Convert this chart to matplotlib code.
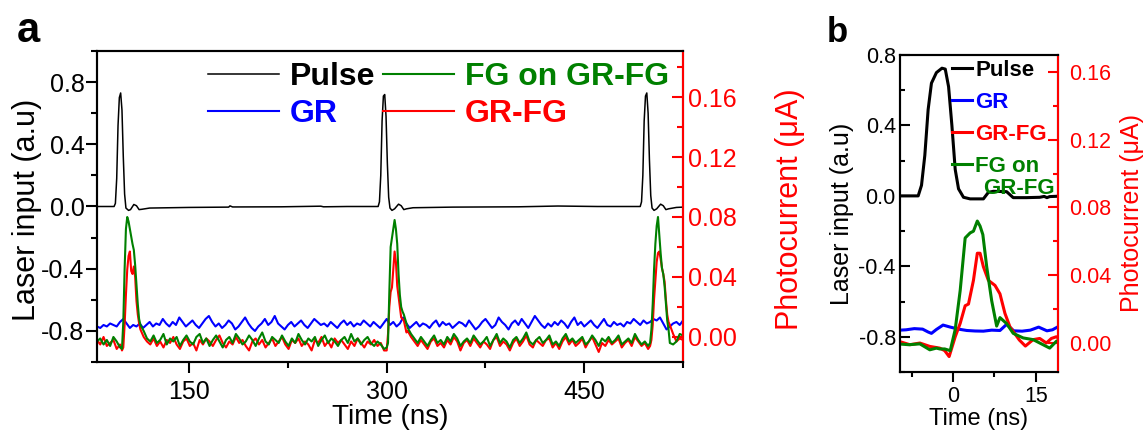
import numpy as np
import matplotlib
matplotlib.use('Agg')
import matplotlib.pyplot as plt
from matplotlib.ticker import MultipleLocator, FormatStrFormatter

plt.rcParams['font.family'] = ['Liberation Sans', 'DejaVu Sans']
plt.rcParams['axes.unicode_minus'] = False

# ---------------- panel a data ----------------
# laser pulse (time ns, a.u.)
pulse_a = [(80, 0.0), (93, 0.0), (94, 0.02), (95, 0.18), (96, 0.52), (97, 0.70), (98, 0.73),
           (99, 0.62), (100, 0.32), (101, 0.08), (102, -0.01), (104, -0.025), (105.5, -0.02),
           (108, 0.013), (110, 0.005), (112, -0.02), (114, -0.018), (120, -0.01), (150, -0.006),
           (180, -0.004), (181, 0.004), (183, -0.003), (220, -0.002), (250, 0.002), (252, -0.002),
           (270, 0.0), (293.5, 0.0),
           (294.5, 0.03), (295.5, 0.2), (296.5, 0.55), (297.5, 0.71), (298.5, 0.72), (299.5, 0.58),
           (300.5, 0.28), (301.5, 0.06), (302.5, -0.01), (304, -0.025), (306, -0.015), (309, 0.015),
           (311, 0.005), (313, -0.02), (315, -0.015), (320, -0.008), (350, -0.004), (400, -0.002),
           (430, 0.003), (460, 0.0), (492.5, 0.0),
           (493.5, 0.03), (494.5, 0.2), (495.5, 0.55), (496.5, 0.71), (497.5, 0.73), (498.5, 0.6),
           (499.5, 0.3), (500.5, 0.07), (501.5, -0.01), (503, -0.025), (505, -0.015), (508, 0.015),
           (510, 0.005), (512, -0.02), (514, -0.015), (520, -0.006), (525, -0.004)]

# GR photocurrent (nA), sampled every 2.5 ns from 80 ns
gr_a = [7, 6, 8, 7, 9, 8, 7, 10, 12, 9,
        6, 8, 7, 9, 6, 8, 10, 7, 9, 8,
        12, 9, 7, 10, 8, 13, 10, 7, 9, 11,
        8, 6, 9, 12, 14, 10, 7, 9, 6, 8,
        11, 9, 5, 7, 10, 13, 9, 6, 4, 7,
        9, 12, 8, 10, 14, 9, 7, 5, 8, 10,
        7, 9, 11, 8, 6, 9, 12, 10, 8, 9,
        7, 10, 8, 6, 9, 11, 8, 10, 7, 9,
        8, 11, 9, 7, 10, 8, 6, 9, 12, 8,
        10, 7, 9, 13, 9, 6, 8, 10, 7, 9,
        8, 6, 9, 11, 7, 10, 8, 9, 6, 8,
        10, 9, 7, 11, 8, 5, 7, 10, 12, 9,
        6, 8, 13, 10, 8, 5, 9, 11, 8, 12,
        9, 6, 10, 14, 11, 8, 6, 9, 7, 10,
        8, 11, 9, 6, 10, 13, 8, 10, 7, 9,
        11, 8, 6, 9, 12, 8, 7, 10, 8, 9,
        7, 10, 9, 12, 10, 8, 11, 9, 10, 12,
        11, 13, 9, 5, 7, 9, 10, 8, 11]
t_gr = np.arange(80, 526, 2.5)

# time grid of GR-FG / FG traces: finer around the pulses
t_pc = np.concatenate([np.arange(80, 98, 2.5), np.arange(98, 113), np.arange(113, 299, 2.5),
                       np.arange(300, 316), np.arange(316, 499, 2.5), np.arange(500, 515),
                       np.arange(515, 526, 2.5)])

# FG on GR-FG photocurrent (nA)
fg_a = ([-3, -1, -5, -2, -6, 0, -3, -7]
        + [-7, -8, 10, 45, 72, 80, 77, 72, 67, 62, 58, 48, 35, 22, 12]
        + [8, 4, -1, -3, 1, -4, -2, 2, -5, -1,
           -3, 0, -6, -2, 1, -3, -5, 0, 2, -4,
           -1, -6, -2, 1, -3, -7, -2, 0, -4, 2,
           -1, -5, -3, 1, -2, -6, -1, 3, -3, -5,
           0, -2, -4, 1, -3, -6, -1, -4, 2, -2,
           -5, -1, -3, 0, -6, -2, 1, -4, -1, -3,
           -6, -2, 0, -4, 2, -3, -1, -5, -2, 0,
           -4, -6, -3, -5, -8]
        + [-7, -4, 30, 60, 66, 72, 78, 72, 62, 42, 28, 20, 17, 15, 12, 9]
        + [6, 2, -1, -4, 0, -3, -6, -2, 1, -4,
           -2, -5, 0, -3, 2, -1, -6, -3, -1, -4,
           1, -2, -5, -3, 0, -6, -2, 2, -4, -1,
           -3, -7, -2, 0, -4, -1, 3, -3, -5, -2,
           0, -4, -2, 1, -5, -3, -6, -1, 2, -3,
           -1, -4, -2, 0, -5, -3, 1, -2, -6, -1,
           -3, 0, -4, -2, 1, -5, -3, -1, -4, 2,
           -2, -5, -3, -6]
        + [-4, 5, 22, 45, 62, 74, 80, 68, 56, 46, 42, 34, 22, 11, 5]
        + [-4, -5, -3, 2, 1])

# GR-FG photocurrent (nA)
grfg_a = ([-2, -5, 0, -6, -4, -2, -8, -5]
          + [-6, -9, -7, 8, 28, 45, 54, 57, 44, 42, 47, 40, 24, 15, 9]
          + [5, 0, -3, -5, -1, -6, -3, -7, -2, -4,
             0, -5, -8, -3, -1, -6, -4, -9, -2, -5,
             -1, -3, -6, -2, 1, -4, -7, -3, -5, 0,
             -4, -2, -6, -9, -3, -1, -5, -2, -7, -4,
             -1, -6, -3, 0, -5, -8, -2, -4, -1, -6,
             -3, -5, -9, -2, -4, 0, -6, -3, -7, -1,
             -4, -2, -5, -8, -3, -6, -1, -4, -7, -3,
             -5, -2, -6, -4, -9]
          + [-9, 2, 20, 30, 33, 45, 57, 50, 34, 27, 20, 13, 12, 11, 7, 3]
          + [4, 0, -3, -6, -2, -5, -8, -3, -1, -6,
             -4, -7, -2, -5, 0, -3, -9, -4, -2, -6,
             -1, -4, -7, -3, -5, -8, -2, 0, -6, -3,
             -5, -9, -4, -1, -6, -3, 1, -5, -7, -2,
             -4, -6, -2, -1, -7, -4, -8, -3, 0, -5,
             -2, -6, -4, -1, -7, -3, 0, -5, -10, -4,
             -6, -2, -5, -3, -1, -7, -4, -2, -6, 0,
             -3, -6, -4, -8]
          + [-6, -2, 8, 25, 38, 50, 56, 57, 52, 46, 42, 37, 25, 15, 10]
          + [8, 2, -3, -1, -2])

# ---------------- panel b data ----------------
pulse_b = [(-9.6, 0.0), (-6.3, 0.0), (-5.7, 0.06), (-5.1, 0.23), (-4.5, 0.49), (-3.9, 0.64),
           (-3.0, 0.70), (-2.0, 0.725), (-1.4, 0.72), (-0.8, 0.62), (-0.2, 0.40), (0.4, 0.15),
           (1.0, 0.04), (1.9, -0.008), (3.1, -0.017), (5.5, -0.017), (6.4, 0.02), (7.3, 0.026),
           (9.7, 0.024), (10.9, -0.01), (13.3, -0.01), (15.7, -0.008), (16.5, -0.003),
           (17.0, -0.01), (17.5, -0.004), (19.0, -0.002)]
# photocurrents in nA
gr_b = [(-9.6, 7.6), (-8.5, 7.8), (-7.0, 8.5), (-5.5, 8.2), (-4.5, 6.5), (-3.9, 5.7), (-3.0, 8.0),
        (-1.8, 10.6), (-0.5, 9.4), (1.0, 8.2), (2.5, 7.4), (4.0, 7.1), (5.5, 7.0), (7.0, 7.6),
        (8.5, 7.4), (9.7, 11.0), (11.0, 7.2), (12.5, 7.0), (14.0, 7.6), (15.5, 9.4), (17.0, 7.2),
        (18.0, 7.8), (19.0, 9.6)]
grfg_b = [(-9.6, 0.8), (-7.8, -1.0), (-6.0, 0.0), (-4.2, -2.0), (-2.4, -3.0), (-1.5, -4.5),
          (-0.7, -8.0), (0.4, 3.7), (1.3, 11.6), (2.2, 22), (2.8, 23), (3.7, 37), (4.4, 53),
          (4.9, 53), (5.5, 45), (6.4, 37), (7.6, 34), (8.5, 29), (9.4, 17.5), (10.3, 9.6),
          (12.0, 1.8), (13.1, -1.8), (14.5, 2.0), (15.7, 2.7), (16.9, 0.0), (17.8, 2.7),
          (18.7, 3.7), (19.0, 3.0)]
fg_b = [(-9.6, -0.6), (-8.0, -1.0), (-6.0, -0.5), (-4.2, -4.0), (-3.0, -3.0), (-2.4, -3.5),
        (-1.5, -3.5), (-0.5, -4.5), (0.4, 8), (1.3, 31), (2.2, 62), (3.1, 65), (3.7, 66),
        (4.4, 72), (4.9, 69), (5.4, 64), (6.1, 45), (7.0, 25), (7.9, 10), (8.5, 15), (9.7, 11.5),
        (10.9, 5.7), (12.7, 3), (14.5, 2), (16.3, -1), (17.5, -3), (18.7, 1), (19.0, 1.5)]

BLUE, RED, GREEN = '#0000ff', '#ff0000', '#008000'


def style_axes(ax, ax2, tsize, xdir, ldir, length):
    for a in (ax, ax2):
        for s in a.spines.values():
            s.set_linewidth(1.5)
    ax2.spines['right'].set_color(RED)
    ax.tick_params(axis='x', which='both', direction=xdir, width=1.5, labelsize=tsize, top=False)
    ax.tick_params(axis='y', which='both', direction=ldir, width=1.5, labelsize=tsize)
    ax.tick_params(which='major', length=length)
    ax.tick_params(which='minor', length=length * 0.55)
    ax2.tick_params(axis='y', which='both', direction='in', width=1.5, colors=RED, labelsize=tsize)
    ax2.tick_params(axis='y', which='major', length=length)
    ax2.tick_params(axis='y', which='minor', length=length * 0.55)
    ax.yaxis.set_major_locator(MultipleLocator(0.4))
    ax.yaxis.set_minor_locator(MultipleLocator(0.2))
    ax.yaxis.set_major_formatter(FormatStrFormatter('%.1f'))
    ax2.yaxis.set_major_locator(MultipleLocator(0.04))
    ax2.yaxis.set_minor_locator(MultipleLocator(0.02))
    ax2.yaxis.set_major_formatter(FormatStrFormatter('%.2f'))


fig = plt.figure(figsize=(11.46, 4.32), dpi=100)

# ---------------- panel a ----------------
ax = fig.add_axes([0.0846, 0.162, 0.5114, 0.720])
ax2 = ax.twinx()
pa = np.array(pulse_a).T
l_pulse, = ax.plot(pa[0], pa[1], color='k', lw=1.1, label='Pulse')
l_gr, = ax2.plot(t_gr, np.array(gr_a) / 1000, color=BLUE, lw=1.5, label='GR')
l_grfg, = ax2.plot(t_pc, np.array(grfg_a) / 1000, color=RED, lw=1.5, label='GR-FG')
l_fg, = ax2.plot(t_pc, np.array(fg_a) / 1000, color=GREEN, lw=1.5, label='FG on GR-FG')
ax.set_xlim(80, 525)
ax.set_ylim(-1.0, 1.0)
ax2.set_ylim(-0.0167, 0.1907)
ax.xaxis.set_major_locator(MultipleLocator(150))
ax.xaxis.set_minor_locator(MultipleLocator(75))
style_axes(ax, ax2, 18, 'out', 'out', 8)
ax.tick_params(axis='x', which='both', pad=5)
ax.tick_params(axis='y', which='both', pad=1)
ax.set_xlabel('Time (ns)', fontsize=20, labelpad=0)
ax.set_ylabel('Laser input (a.u)', fontsize=22)
ax.yaxis.set_label_coords(-0.094, 0.49)
ax2.set_ylabel('Photocurrent (\u03bcA)', fontsize=22, color=RED)
ax2.yaxis.set_label_coords(1.157, 0.49)
ax2.legend([l_pulse, l_gr, l_fg, l_grfg], ['Pulse', 'GR', 'FG on GR-FG', 'GR-FG'],
           ncol=2, loc='upper left', bbox_to_anchor=(0.19, 0.965), frameon=False,
           prop={'weight': 'bold', 'size': 23}, labelcolor='linecolor',
           handlelength=2.2, handletextpad=0.35, columnspacing=0.25, labelspacing=0.22,
           borderpad=0, borderaxespad=0)

# ---------------- panel b ----------------
bx = fig.add_axes([0.7853, 0.1389, 0.1379, 0.7338])
bx2 = bx.twinx()
pb = np.array(pulse_b).T
gb = np.array(gr_b).T
rb = np.array(grfg_b).T
fb = np.array(fg_b).T
m_pulse, = bx.plot(pb[0], pb[1], color='k', lw=2.2)
m_gr, = bx2.plot(gb[0], gb[1] / 1000, color=BLUE, lw=2.2)
m_grfg, = bx2.plot(rb[0], rb[1] / 1000, color=RED, lw=2.2)
m_fg, = bx2.plot(fb[0], fb[1] / 1000, color=GREEN, lw=2.2)
bx.set_xlim(-9.6, 19.0)
bx.set_ylim(-1.0, 0.8)
bx2.set_ylim(-0.0171, 0.170)
bx.xaxis.set_major_locator(MultipleLocator(15))
bx.xaxis.set_minor_locator(MultipleLocator(7.5))
style_axes(bx, bx2, 15.5, 'out', 'in', 7)
bx.tick_params(axis='y', which='both', pad=3)
bx2.tick_params(axis='y', which='both', pad=8)
bx.tick_params(axis='x', which='both', pad=3)
bx.set_xlabel('Time (ns)', fontsize=17, labelpad=1)
bx.set_ylabel('Laser input (a.u)', fontsize=18, labelpad=3)
bx2.set_ylabel('Photocurrent (\u03bcA)', fontsize=18, color=RED, labelpad=6)
bx2.legend([m_pulse, m_gr, m_grfg, m_fg], ['Pulse', 'GR', 'GR-FG', 'FG on'],
           loc='upper left', bbox_to_anchor=(0.33, 0.985), frameon=False,
           prop={'weight': 'bold', 'size': 16}, labelcolor='linecolor',
           handlelength=0.9, handletextpad=0.15, labelspacing=0.5,
           borderpad=0, borderaxespad=0)
bx2.text(0.525, 0.58, 'GR-FG', transform=bx2.transAxes, color=GREEN, fontsize=16,
         fontweight='bold', va='center', ha='left')

fig.text(0.0148, 0.903, 'a', fontsize=30, fontweight='bold', va='baseline')
fig.text(0.721, 0.903, 'b', fontsize=25, fontweight='bold', va='baseline')

fig.savefig('out.png', dpi=100)
